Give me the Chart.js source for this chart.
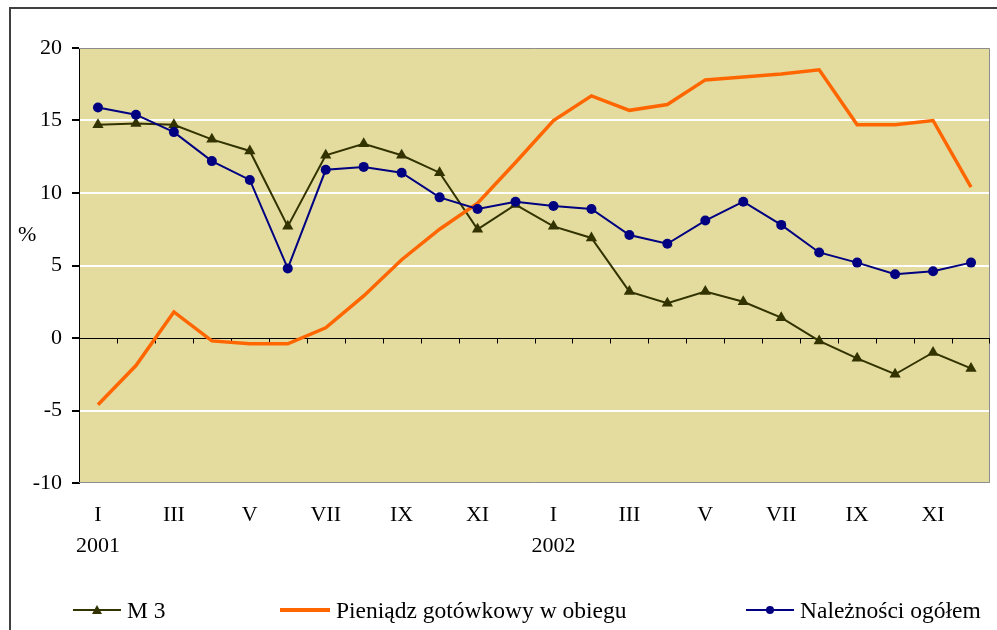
<!DOCTYPE html>
<html>
<head>
<meta charset="utf-8">
<script src="https://cdn.jsdelivr.net/npm/chart.js@4"></script>
<style>
  body { margin: 0; background: #fff; }
  #wrap { position: relative; width: 997px; height: 630px; overflow: hidden; }
  #frame { position: absolute; left: 9px; top: 7px; width: 1100px; height: 800px; border: 2px solid #404040; box-sizing: border-box; }
  canvas { position: absolute; left: 0; top: 0; }
  .lbl { position: absolute; font-family: 'Liberation Serif', 'Times New Roman', serif; font-size: 23.5px; color: #000; white-space: nowrap; }
  .item { position: absolute; top: 595px; height: 30px; display: flex; align-items: center; }
  .item svg { margin-right: 6px; }
</style>
</head>
<body>
<div id="wrap">
  <div id="frame"></div>
  <canvas id="chart" width="997" height="630"></canvas>
  <div class="lbl" style="left:18px; top:221px; font-size:22px;">%</div>
  <div class="lbl item" style="left:73px;">
    <svg width="48" height="14"><line x1="0" y1="7" x2="48" y2="7" stroke="#333300" stroke-width="2"/><polygon points="24,2 29,11 19,11" fill="#333300"/></svg>M 3
  </div>
  <div class="lbl item" style="left:280px;">
    <svg width="50" height="14"><line x1="0" y1="7" x2="50" y2="7" stroke="#FF6600" stroke-width="4"/></svg>Pieniądz gotówkowy w obiegu
  </div>
  <div class="lbl item" style="left:746px;">
    <svg width="48" height="14"><line x1="0" y1="7" x2="48" y2="7" stroke="#000080" stroke-width="2"/><circle cx="24" cy="7" r="4" fill="#000080"/></svg>Należności ogółem
  </div>
</div>
<script>
const months = ['I', 'II', 'III', 'IV', 'V', 'VI', 'VII', 'VIII', 'IX', 'X', 'XI', 'XII',
  'I', 'II', 'III', 'IV', 'V', 'VI', 'VII', 'VIII', 'IX', 'X', 'XI', 'XII'];
const years = ['2001', '2002'];
const m3 = [14.7, 14.8, 14.7, 13.7, 12.9, 7.7, 12.6, 13.4, 12.6, 11.4, 7.5, 9.2,
  7.7, 6.9, 3.2, 2.4, 3.2, 2.5, 1.4, -0.2, -1.4, -2.5, -1.0, -2.1];
const cash = [-4.6, -1.9, 1.8, -0.2, -0.4, -0.4, 0.7, 2.9, 5.4, 7.5, 9.3, 12.1,
  15.0, 16.7, 15.7, 16.1, 17.8, 18.0, 18.2, 18.5, 14.7, 14.7, 15.0, 10.4];
const claims = [15.9, 15.4, 14.2, 12.2, 10.9, 4.8, 11.6, 11.8, 11.4, 9.7, 8.9, 9.4,
  9.1, 8.9, 7.1, 6.5, 8.1, 9.4, 7.8, 5.9, 5.2, 4.4, 4.6, 5.2];
const yTicks = [-10, -5, 0, 5, 10, 15, 20];

const serif = "'Liberation Serif', 'Times New Roman', serif";

// plot background, plot frame and the small ticks sitting on the zero line
const plotDecor = {
  id: 'plotDecor',
  beforeDraw(chart) {
    const { ctx, chartArea: a } = chart;
    ctx.save();
    ctx.fillStyle = '#E4DC9E';
    ctx.fillRect(a.left, a.top, a.right - a.left, a.bottom - a.top);
    ctx.restore();
  },
  beforeDatasetsDraw(chart) {
    const { ctx, chartArea: a, scales } = chart;
    const x = scales.x, y = scales.y;
    ctx.save();
    ctx.strokeStyle = '#8c8c8c';
    ctx.lineWidth = 1;
    ctx.beginPath();
    ctx.moveTo(a.left, a.top + 0.5);
    ctx.lineTo(a.right - 0.5, a.top + 0.5);
    ctx.lineTo(a.right - 0.5, a.bottom - 0.5);
    ctx.lineTo(a.left, a.bottom - 0.5);
    ctx.stroke();
    const y0 = Math.round(y.getPixelForValue(0)) + 0.5;
    ctx.strokeStyle = '#000';
    ctx.beginPath();
    ctx.moveTo(a.left, y0);
    ctx.lineTo(a.right, y0);
    for (let i = 1; i <= months.length; i++) {
      const px = Math.round((x.getPixelForValue(i - 1) + x.getPixelForValue(i)) / 2) + 0.5;
      const xx = i === months.length ? Math.round(a.right) - 0.5 : px;
      ctx.moveTo(xx, y0);
      ctx.lineTo(xx, y0 + 5);
    }
    ctx.stroke();
    ctx.restore();
  }
};

new Chart(document.getElementById('chart'), {
  type: 'line',
  data: {
    labels: months,
    datasets: [
      {
        label: 'M3',
        data: m3,
        borderColor: '#333300',
        backgroundColor: '#333300',
        borderWidth: 2,
        pointStyle: 'triangle',
        pointRadius: 6.5,
        pointBorderWidth: 0,
        tension: 0,
        order: 3,
      },
      {
        label: 'Pieniądz gotówkowy w obiegu',
        data: cash,
        borderColor: '#FF6600',
        backgroundColor: '#FF6600',
        borderWidth: 3.5,
        pointRadius: 0,
        tension: 0,
        order: 2,
      },
      {
        label: 'Należności ogółem',
        data: claims,
        borderColor: '#000080',
        backgroundColor: '#000080',
        borderWidth: 2,
        pointStyle: 'circle',
        pointRadius: 5,
        pointBorderWidth: 0,
        tension: 0,
        order: 1,
      },
    ],
  },
  options: {
    responsive: false,
    animation: false,
    layout: { padding: { top: 48, right: 7, left: 0, bottom: 0 } },
    plugins: {
      legend: { display: false },
      tooltip: { enabled: false },
    },
    scales: {
      x: {
        type: 'category',
        offset: true,
        grid: { display: false },
        border: { display: false },
        afterFit: (scale) => { scale.height = 147; },
        ticks: {
          autoSkip: false,
          maxRotation: 0,
          padding: 9,
          color: '#000',
          font: { family: serif, size: 22, lineHeight: 1.4 },
          callback: (value, index) => {
            if (index % 2) return '';
            if (index % 12 === 0) return [months[index], years[index / 12]];
            return months[index];
          },
        },
      },
      y: {
        min: -10,
        max: 20,
        afterFit: (scale) => { scale.width = 79; },
        afterBuildTicks: (scale) => { scale.ticks = yTicks.map((v) => ({ value: v })); },
        border: { display: true, color: '#000', width: 1 },
        grid: {
          color: (c) => (c.tick && (c.tick.value === 0 || c.tick.value === 20 || c.tick.value === -10) ? 'rgba(0,0,0,0)' : '#ffffff'),
          lineWidth: 2,
          tickColor: '#000',
          tickLength: 7,
          drawTicks: true,
        },
        ticks: {
          padding: 10,
          color: '#000',
          font: { family: serif, size: 22 },
        },
      },
    },
  },
  plugins: [plotDecor],
});
</script>
</body>
</html>
